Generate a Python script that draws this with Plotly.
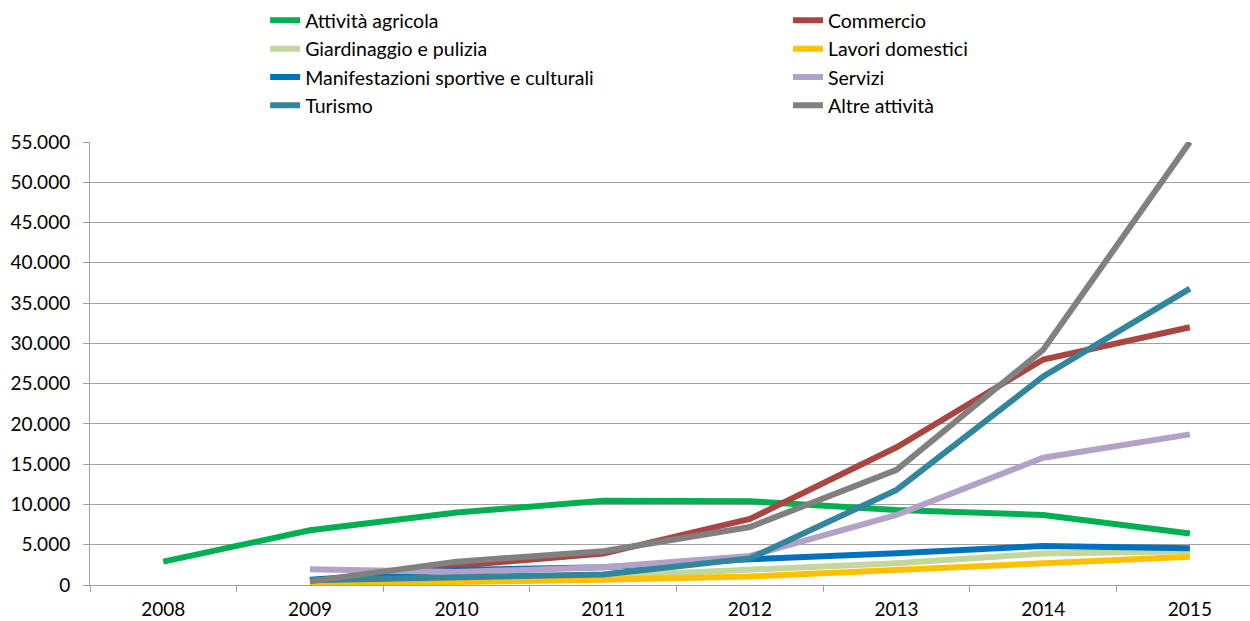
import plotly.graph_objects as go

# Anni sull'asse delle categorie
anni = ["2008", "2009", "2010", "2011", "2012", "2013", "2014", "2015"]

# Valori per settore di attività (None = dato assente)
attivita_agricola = [2900, 6800, 9000, 10450, 10400, 9300, 8700, 6400]
commercio = [None, 500, 2400, 3900, 8200, 17100, 28000, 32000]
giardinaggio = [None, 200, 500, 1100, 1950, 2700, 3900, 4200]
lavori_domestici = [None, 100, 300, 650, 1050, 1850, 2700, 3500]
manifestazioni = [None, 650, 1850, 2200, 3200, 3950, 4850, 4550]
servizi = [None, 1950, 1600, 2200, 3600, 8700, 15800, 18700]
turismo = [None, 600, 1000, 1300, 3300, 11800, 25900, 36800]
altre_attivita = [None, 450, 2900, 4200, 7200, 14300, 29200, 55000]

serie = [
    ("Attività agricola", attivita_agricola, "#00B050", "legend"),
    ("Commercio", commercio, "#AB4542", "legend2"),
    ("Giardinaggio e pulizia", giardinaggio, "#C3D69B", "legend"),
    ("Lavori domestici", lavori_domestici, "#FFC000", "legend2"),
    ("Manifestazioni sportive e culturali", manifestazioni, "#0070C0", "legend"),
    ("Servizi", servizi, "#B3A2C7", "legend2"),
    ("Turismo", turismo, "#31859C", "legend"),
    ("Altre attività", altre_attivita, "#808080", "legend2"),
]

# Etichette dell'asse dei valori (separatore delle migliaia: punto)
valori_asse = [0, 5000, 10000, 15000, 20000, 25000, 30000, 35000, 40000, 45000, 50000, 55000]
etichette_asse = ["0", "5.000", "10.000", "15.000", "20.000", "25.000", "30.000",
                  "35.000", "40.000", "45.000", "50.000", "55.000"]

fig = go.Figure()
for nome, valori, colore, leg in serie:
    fig.add_trace(go.Scatter(
        x=anni, y=valori, name=nome, mode="lines",
        line=dict(color=colore, width=6),
        legend=leg, legendgroup=nome,
    ))

famiglia = "Lato, Calibri, sans-serif"
font_assi = dict(family=famiglia, size=19, color="#000000")
font_legenda = dict(family=famiglia, size=19.5, color="#000000")
grigio = "#A0A0A0"

fig.update_layout(
    width=1250, height=621,
    margin=dict(l=90, r=0, t=142, b=36, autoexpand=False),
    paper_bgcolor="white", plot_bgcolor="white",
    font=font_assi,
    xaxis=dict(
        type="category", range=[-0.5, 7.41],
        tickson="boundaries", ticks="outside", ticklen=6, tickcolor=grigio,
        showline=True, linecolor=grigio, linewidth=1,
        showgrid=False, zeroline=False, tickangle=0, automargin=False,
        ticklabelstandoff=7,
        tickfont=font_assi,
    ),
    yaxis=dict(
        range=[0, 55000], tickvals=valori_asse, ticktext=etichette_asse,
        ticks="outside", ticklen=6, tickcolor=grigio,
        showline=True, linecolor=grigio, linewidth=1,
        showgrid=True, gridcolor=grigio, gridwidth=1,
        zeroline=False, ticklabelstandoff=9, automargin=False,
        tickfont=font_assi,
    ),
    legend=dict(
        x=0.151, y=1.318,
        xanchor="left", yanchor="top", orientation="v",
        font=font_legenda, bgcolor="rgba(0,0,0,0)", tracegroupgap=0,
        itemwidth=30,
    ),
    legend2=dict(
        x=0.6017, y=1.318,
        xanchor="left", yanchor="top", orientation="v",
        font=font_legenda, bgcolor="rgba(0,0,0,0)", tracegroupgap=0,
        itemwidth=30,
    ),
    showlegend=True,
)

fig.write_html("out.html")
